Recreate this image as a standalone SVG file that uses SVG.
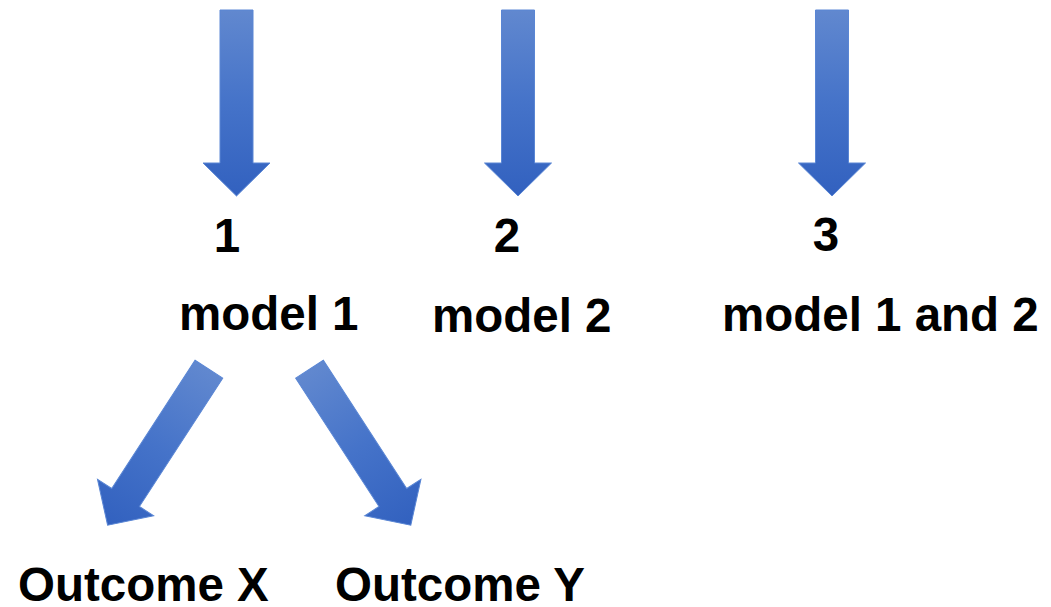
<svg xmlns="http://www.w3.org/2000/svg" width="1051" height="607" viewBox="0 0 1051 607">
  <style>
    .lbl { font-family: "Liberation Sans", Arial, sans-serif; font-weight: bold; font-size: 47.5px; fill: #000; }
    .arr { fill: url(#g); stroke: #5A86D4; stroke-width: 1; }
  </style>
  <defs>
    <linearGradient id="g" x1="0" y1="0" x2="0" y2="1">
      <stop offset="0" stop-color="#6188CF"/>
      <stop offset="0.5" stop-color="#4573C9"/>
      <stop offset="1" stop-color="#3261BF"/>
    </linearGradient>
    <path id="arrow" d="M-16.5,0 H16.5 V153 H33.5 L0,186 L-33.5,153 H-16.5 Z"/>
  </defs>
  <rect width="1051" height="607" fill="#fff"/>
  <g id="connectors">
    <use href="#arrow" class="arr" transform="translate(236.5,10)"/>
    <use href="#arrow" class="arr" transform="translate(518,10)"/>
    <use href="#arrow" class="arr" transform="translate(832,10)"/>
    <use href="#arrow" class="arr" transform="translate(208.9,369.2) rotate(33)"/>
    <use href="#arrow" class="arr" transform="translate(309.5,369.2) rotate(-33)"/>
  </g>
  <g id="node-1"><text class="lbl" x="227" y="252" text-anchor="middle">1</text></g>
  <g id="node-2"><text class="lbl" x="507" y="252" text-anchor="middle">2</text></g>
  <g id="node-3"><text class="lbl" x="826" y="251" text-anchor="middle">3</text></g>
  <g id="node-model1"><text class="lbl" x="179" y="330">model 1</text></g>
  <g id="node-model2"><text class="lbl" x="432" y="332">model 2</text></g>
  <g id="node-model12"><text class="lbl" x="722" y="331">model 1 and 2</text></g>
  <g id="node-outcomeX"><text class="lbl" x="18" y="601">Outcome X</text></g>
  <g id="node-outcomeY"><text class="lbl" x="335" y="601">Outcome Y</text></g>
</svg>
